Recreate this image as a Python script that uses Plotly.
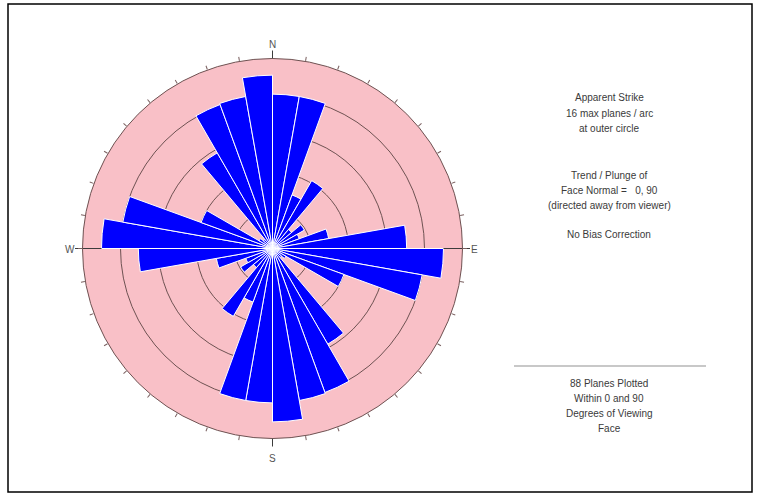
import plotly.graph_objects as go

# Apparent strike rose, 10 degree arcs, planes per arc
arc_centres = [5, 15, 25, 35, 45, 55, 65, 75, 85, 95, 105, 115, 125, 135, 145, 155, 165, 175,
               185, 195, 205, 215, 225, 235, 245, 255, 265, 275, 285, 295, 305, 315, 325, 335, 345, 355]
planes_per_arc = [13.0, 13.0, 4.8, 6.6, 2.1, 3.1, 2.4, 4.8, 11.3, 14.4, 12.8, 6.4, 1.3, 1.0, 9.3, 12.9, 13.0, 14.6,
                  13.0, 13.0, 4.8, 6.6, 2.1, 3.1, 2.4, 4.8, 11.3, 14.4, 12.8, 6.4, 1.3, 1.0, 9.3, 12.9, 13.0, 14.6]
max_planes = 16
ring_values = [3.2, 6.4, 9.6, 12.8]

compass_labels = ["N", "E", "S", "W"]

info_top = ["Apparent Strike", "16 max planes / arc", "at outer circle"]
info_mid = ["Trend / Plunge of", "Face Normal =   0, 90", "(directed away from viewer)"]
info_bias = ["No Bias Correction"]
info_bottom = ["88 Planes Plotted", "Within 0 and 90", "Degrees of Viewing", "Face"]

W, H = 766, 497
cx, cy, R = 272.5, 248.5, 190

def px(x):
    return x / W

def py(y):
    return 1 - y / H

fig = go.Figure()

fig.add_trace(go.Barpolar(
    r=planes_per_arc, theta=arc_centres, width=[10] * len(arc_centres),
    marker=dict(color="#0000FF", line=dict(color="white", width=1)),
    hoverinfo="skip", showlegend=False))

# W-E reference line in the pink band beyond the petals on each side
east_tip = max(planes_per_arc[arc_centres.index(85)], planes_per_arc[arc_centres.index(95)])
west_tip = max(planes_per_arc[arc_centres.index(265)], planes_per_arc[arc_centres.index(275)])
for tip, ang in ((east_tip, 90), (west_tip, 270)):
    fig.add_trace(go.Scatterpolar(
        r=[tip, max_planes], theta=[ang, ang], mode="lines",
        line=dict(color="#3c3c3c", width=1), hoverinfo="skip", showlegend=False))

fig.update_layout(
    width=W, height=H,
    margin=dict(l=0, r=0, t=0, b=0),
    paper_bgcolor="white",
    font=dict(family="Arial, Liberation Sans, sans-serif", size=10, color="#3a3a3a"),
    polar=dict(
        domain=dict(x=[px(cx - R), px(cx + R)], y=[py(cy + R), py(cy - R)]),
        bgcolor="#F9C0C7",
        radialaxis=dict(range=[0, max_planes], tickmode="array", tickvals=ring_values,
                        showticklabels=False, ticks="", showline=False,
                        gridcolor="#6e5252", gridwidth=1),
        angularaxis=dict(rotation=90, direction="clockwise", tickmode="linear",
                         tick0=0, dtick=10, ticks="outside", ticklen=4,
                         tickcolor="#7a6060", showticklabels=False, showgrid=False,
                         showline=True, linecolor="#6e5252", linewidth=1),
    ),
)

shapes = [
    # frame
    dict(type="rect", xref="paper", yref="paper", x0=px(8), x1=px(752), y0=py(492), y1=py(4),
         line=dict(color="black", width=1.5)),
    # W-E line beyond the circle
    dict(type="line", xref="paper", yref="paper", x0=px(75), x1=px(470), y0=py(cy), y1=py(cy),
         line=dict(color="#3c3c3c", width=1), layer="below"),
    # N and S marks
    dict(type="line", xref="paper", yref="paper", x0=px(cx), x1=px(cx), y0=py(cy - R), y1=py(cy - R - 8),
         line=dict(color="#3c3c3c", width=1)),
    dict(type="line", xref="paper", yref="paper", x0=px(cx), x1=px(cx), y0=py(cy + R), y1=py(cy + R + 8),
         line=dict(color="#3c3c3c", width=1)),
    # separator on the right
    dict(type="line", xref="paper", yref="paper", x0=px(514), x1=px(706), y0=py(366), y1=py(366),
         line=dict(color="#c8c8c8", width=2)),
]
fig.update_layout(shapes=shapes)

annotations = []
compass_pos = {"N": (272, 44), "E": (474, 250), "S": (272, 458), "W": (70, 250)}
for lab in compass_labels:
    x, y = compass_pos[lab]
    annotations.append(dict(x=px(x), y=py(y), xref="paper", yref="paper", text=lab,
                            showarrow=False, font=dict(size=10, color="#555555"),
                            xanchor="center", yanchor="middle"))

def add_block(lines, y_start, step=15.3):
    for i, t in enumerate(lines):
        annotations.append(dict(x=px(609), y=py(y_start + i * step), xref="paper", yref="paper",
                                text=t, showarrow=False, xanchor="center", yanchor="middle",
                                font=dict(size=10, color="#3a3a3a")))

add_block(info_top, 98)
add_block(info_mid, 175)
add_block(info_bias, 234)
add_block(info_bottom, 383)

fig.update_layout(annotations=annotations)

fig.write_html("out.html")
